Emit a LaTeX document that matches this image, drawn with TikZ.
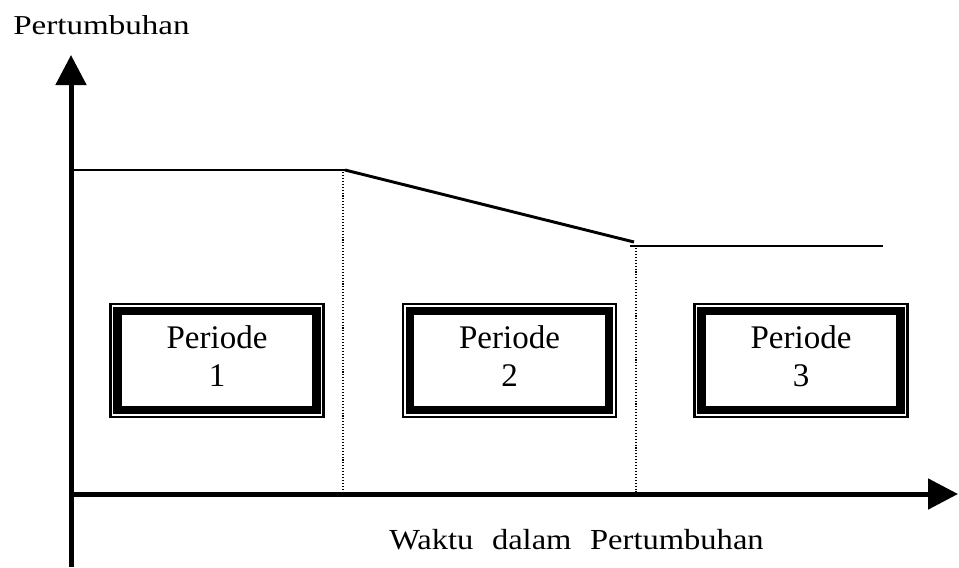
\documentclass[tikz,border=0pt]{standalone}
\usepackage{fontspec}
\setmainfont{Liberation Serif}
\usetikzlibrary{arrows.meta}
\begin{document}
\begin{tikzpicture}[x=0.75pt,y=-0.75pt,
  axis/.style={line width=3.75pt,-{Triangle[width=22.5pt,length=22.5pt]}},
  growth/.style={line width=1.6pt},
  divider/.style={line width=0.8pt,dash pattern=on 0.8pt off 1.4pt},
  periodbox/.style={draw,line width=6.3pt,minimum width=149pt,minimum height=74pt,inner sep=0pt,outer sep=0pt},
  periodtext/.style={align=center,anchor=north,inner sep=0pt,font=\fontsize{24.75pt}{28.5pt}\selectfont}]
\useasboundingbox (0,0) rectangle (959,567);
% axes
\coordinate (ybot) at (71,567);
\coordinate (ytop) at (71,55);
\coordinate (xo) at (69,494);
\coordinate (xend) at (958,494);
\draw[axis] (ybot) -- (ytop);
\draw[axis] (xo) -- (xend);
% growth line
\coordinate (g1) at (74,170);
\coordinate (g2) at (345,170);
\coordinate (g3) at (634,242);
\coordinate (g4) at (630,246);
\coordinate (g5) at (883,246);
\draw[growth] (g1) -- (g2);
\draw[growth,line width=2.2pt] (g2) -- (g3);
\draw[growth,line width=2pt] (g4) -- (g5);
% dividers
\coordinate (d1t) at (343,172);
\coordinate (d1b) at (343,492);
\coordinate (d2t) at (636,248);
\coordinate (d2b) at (636,492);
\draw[divider] (d1t) -- (d1b);
\draw[divider] (d2t) -- (d2b);
% period boxes
\foreach \n/\cx in {1/217,2/509.5,3/801}{
  \node[periodbox] (b\n) at (\cx,360.5) {};
  \draw[line width=1.6pt] ([xshift=-5.4pt,yshift=5.4pt]b\n.north west) rectangle ([xshift=5.4pt,yshift=-5.4pt]b\n.south east);
  \node[periodtext] (t\n) at (\cx,325) {Periode\\\n};
}
% axis labels
\node[anchor=base,inner sep=0pt,font=\fontsize{20.5pt}{24pt}\selectfont] (ylab) at (101.5,35) {\scalebox{1.21}[1]{Pertumbuhan}};
\node[anchor=base,inner sep=0pt,font=\fontsize{21.8pt}{26pt}\selectfont] (xlab) at (576.5,549) {\scalebox{1.12}[1]{Waktu\hspace{0.57em}dalam\hspace{0.57em}Pertumbuhan}};
\end{tikzpicture}
\end{document}
